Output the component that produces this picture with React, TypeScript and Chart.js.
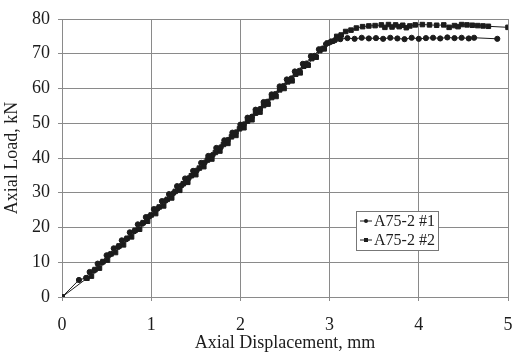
import React, { useEffect, useRef } from "react";
import { Chart, registerables } from "chart.js";

Chart.register(...registerables);

const s1x = [0, 0.19, 0.27, 0.31, 0.36, 0.40, 0.45, 0.50, 0.53, 0.58, 0.63, 0.67, 0.72, 0.76, 0.81, 0.85, 0.90, 0.94, 0.98, 1.03, 1.07, 1.12, 1.16, 1.20, 1.25, 1.29, 1.34, 1.38, 1.42, 1.47, 1.51, 1.56, 1.60, 1.64, 1.69, 1.73, 1.78, 1.82, 1.86, 1.91, 1.95, 2.00, 2.04, 2.08, 2.13, 2.17, 2.22, 2.26, 2.30, 2.35, 2.39, 2.44, 2.48, 2.52, 2.57, 2.61, 2.66, 2.70, 2.74, 2.79, 2.83, 2.88, 2.92, 2.96, 3.01, 3.06, 3.12, 3.20, 3.28, 3.36, 3.44, 3.52, 3.60, 3.68, 3.76, 3.84, 3.92, 4.00, 4.08, 4.16, 4.24, 4.32, 4.40, 4.48, 4.56, 4.62, 4.88];
const s1y = [0, 4.9, 5.5, 7.2, 7.6, 9.6, 9.9, 12.0, 12.1, 14.0, 14.4, 16.3, 16.6, 18.6, 18.9, 20.9, 21.1, 23.0, 23.2, 25.3, 25.4, 27.6, 27.7, 29.6, 29.9, 31.9, 32.1, 34.1, 34.2, 36.3, 36.4, 38.6, 38.7, 40.6, 40.9, 42.9, 43.1, 45.1, 45.2, 47.3, 47.4, 49.6, 49.7, 51.6, 51.9, 53.9, 54.1, 56.1, 56.2, 58.3, 58.4, 60.6, 60.7, 62.6, 62.9, 64.9, 65.1, 67.1, 67.2, 69.3, 69.4, 71.3, 71.5, 72.8, 73.4, 73.9, 74.2, 74.5, 74.3, 74.6, 74.4, 74.5, 74.3, 74.6, 74.4, 74.2, 74.6, 74.3, 74.5, 74.6, 74.4, 74.7, 74.5, 74.6, 74.4, 74.6, 74.3];

const s2x = [0, 0.28, 0.33, 0.37, 0.42, 0.46, 0.51, 0.55, 0.60, 0.64, 0.69, 0.73, 0.78, 0.82, 0.87, 0.91, 0.96, 1.00, 1.05, 1.09, 1.14, 1.18, 1.23, 1.27, 1.32, 1.36, 1.41, 1.45, 1.50, 1.54, 1.59, 1.63, 1.68, 1.72, 1.77, 1.81, 1.86, 1.90, 1.95, 1.99, 2.04, 2.08, 2.13, 2.17, 2.22, 2.26, 2.31, 2.35, 2.40, 2.44, 2.49, 2.53, 2.58, 2.62, 2.67, 2.71, 2.76, 2.80, 2.85, 2.89, 2.94, 2.98, 3.03, 3.08, 3.13, 3.18, 3.24, 3.30, 3.37, 3.44, 3.51, 3.58, 3.62, 3.66, 3.70, 3.74, 3.78, 3.82, 3.86, 3.90, 3.96, 4.04, 4.12, 4.20, 4.28, 4.34, 4.40, 4.44, 4.48, 4.54, 4.60, 4.66, 4.72, 4.78, 5.00];
const s2y = [0, 5.4, 6.0, 7.9, 8.3, 10.2, 10.6, 12.4, 12.8, 14.7, 15.0, 16.9, 17.3, 19.2, 19.5, 21.4, 21.8, 23.6, 24.0, 25.9, 26.2, 28.1, 28.5, 30.4, 30.7, 32.6, 33.0, 34.9, 35.2, 37.1, 37.5, 39.4, 39.7, 41.6, 42.0, 43.9, 44.2, 46.1, 46.5, 48.4, 48.7, 50.6, 51.0, 52.9, 53.2, 55.1, 55.5, 57.4, 57.7, 59.6, 60.0, 61.9, 62.2, 64.1, 64.5, 66.4, 66.7, 68.6, 69.0, 70.9, 71.4, 73.1, 73.6, 75.0, 75.4, 76.4, 76.8, 77.4, 77.8, 78.0, 78.1, 78.3, 77.6, 78.4, 77.7, 78.3, 77.8, 78.2, 77.5, 78.0, 78.3, 78.4, 78.3, 78.2, 78.3, 77.6, 78.1, 77.8, 78.4, 78.3, 78.2, 78.1, 78.0, 77.9, 77.6];

const seriesNames = ["A75-2 #1", "A75-2 #2"];
const xTicks = [0, 1, 2, 3, 4, 5];
const yTicks = [0, 10, 20, 30, 40, 50, 60, 70, 80];
const xTitle = "Axial Displacement, mm";
const yTitle = "Axial Load, kN";

const FONT = "'Liberation Serif', 'Times New Roman', serif";
const INK = "#1c1c1c";
const GRID = "#8a8a8a";

const legendPlugin = {
  id: "insideLegend",
  afterDraw(chart: any) {
    const ctx = chart.ctx;
    const bx = 356, by = 211, bw = 82, bh = 39;
    ctx.save();
    ctx.fillStyle = "#ffffff";
    ctx.fillRect(bx, by, bw, bh);
    ctx.strokeStyle = "#777777";
    ctx.lineWidth = 1;
    ctx.strokeRect(bx + 0.5, by + 0.5, bw, bh);
    const styles = ["circle", "rect"];
    seriesNames.forEach((name, i) => {
      const cy = by + 10 + i * 19;
      ctx.strokeStyle = INK;
      ctx.beginPath();
      ctx.moveTo(bx + 4, cy);
      ctx.lineTo(bx + 16, cy);
      ctx.stroke();
      ctx.fillStyle = INK;
      if (styles[i] === "circle") {
        ctx.beginPath();
        ctx.arc(bx + 10, cy, 2, 0, Math.PI * 2);
        ctx.fill();
      } else {
        ctx.fillRect(bx + 8, cy - 2, 4, 4);
      }
      ctx.font = `16px ${FONT}`;
      ctx.textBaseline = "middle";
      ctx.textAlign = "left";
      ctx.fillText(name, bx + 18, cy + 1);
    });
    ctx.restore();
  },
};

export default function App() {
  const ref = useRef<HTMLCanvasElement>(null);
  useEffect(() => {
    if (!ref.current) return;
    const chart = new Chart(ref.current, {
      type: "scatter",
      data: {
        datasets: [
          {
            label: seriesNames[0],
            data: s1x.map((x, i) => ({ x, y: s1y[i] })),
            showLine: true,
            borderColor: INK,
            backgroundColor: INK,
            borderWidth: 1,
            pointStyle: "circle",
            pointRadius: 2.6,
            pointBorderWidth: 1,
          },
          {
            label: seriesNames[1],
            data: s2x.map((x, i) => ({ x, y: s2y[i] })),
            showLine: true,
            borderColor: INK,
            backgroundColor: INK,
            borderWidth: 1,
            pointStyle: "rect",
            pointRadius: 3.2,
            pointBorderWidth: 1,
          },
        ],
      },
      options: {
        responsive: false,
        animation: false,
        layout: { padding: { left: 0, right: 5, top: 19, bottom: 0 } },
        plugins: { legend: { display: false }, tooltip: { enabled: false } },
        scales: {
          x: {
            type: "linear",
            min: 0,
            max: 5,
            afterFit: (s: any) => { s.height = 55; s.paddingRight = 0; s.paddingLeft = 0; },
            afterBuildTicks: (s: any) => { s.ticks = xTicks.map((v) => ({ value: v })); },
            ticks: { font: { family: FONT, size: 18 }, color: INK, padding: 13 },
            grid: { color: GRID, lineWidth: 1, tickLength: 4 },
            border: { color: GRID },
            title: { display: true, text: xTitle, font: { family: FONT, size: 18, lineHeight: 1 }, color: INK, padding: { top: 0, bottom: 0 } },
          },
          y: {
            type: "linear",
            min: 0,
            max: 80,
            afterFit: (s: any) => { s.width = 62; },
            afterBuildTicks: (s: any) => { s.ticks = yTicks.map((v) => ({ value: v })); },
            ticks: { font: { family: FONT, size: 18 }, color: INK, padding: 8 },
            grid: { color: GRID, lineWidth: 1, tickLength: 4 },
            border: { color: GRID },
            title: { display: true, text: yTitle, font: { family: FONT, size: 18, lineHeight: 1 }, color: INK, padding: { top: 3, bottom: 0 } },
          },
        },
      },
      plugins: [legendPlugin],
    } as any);
    return () => chart.destroy();
  }, []);
  return (
    <div style={{ position: "fixed", left: 0, top: 0, width: 513, height: 352, background: "#fff" }}>
      <canvas ref={ref} width={513} height={352} />
    </div>
  );
}
